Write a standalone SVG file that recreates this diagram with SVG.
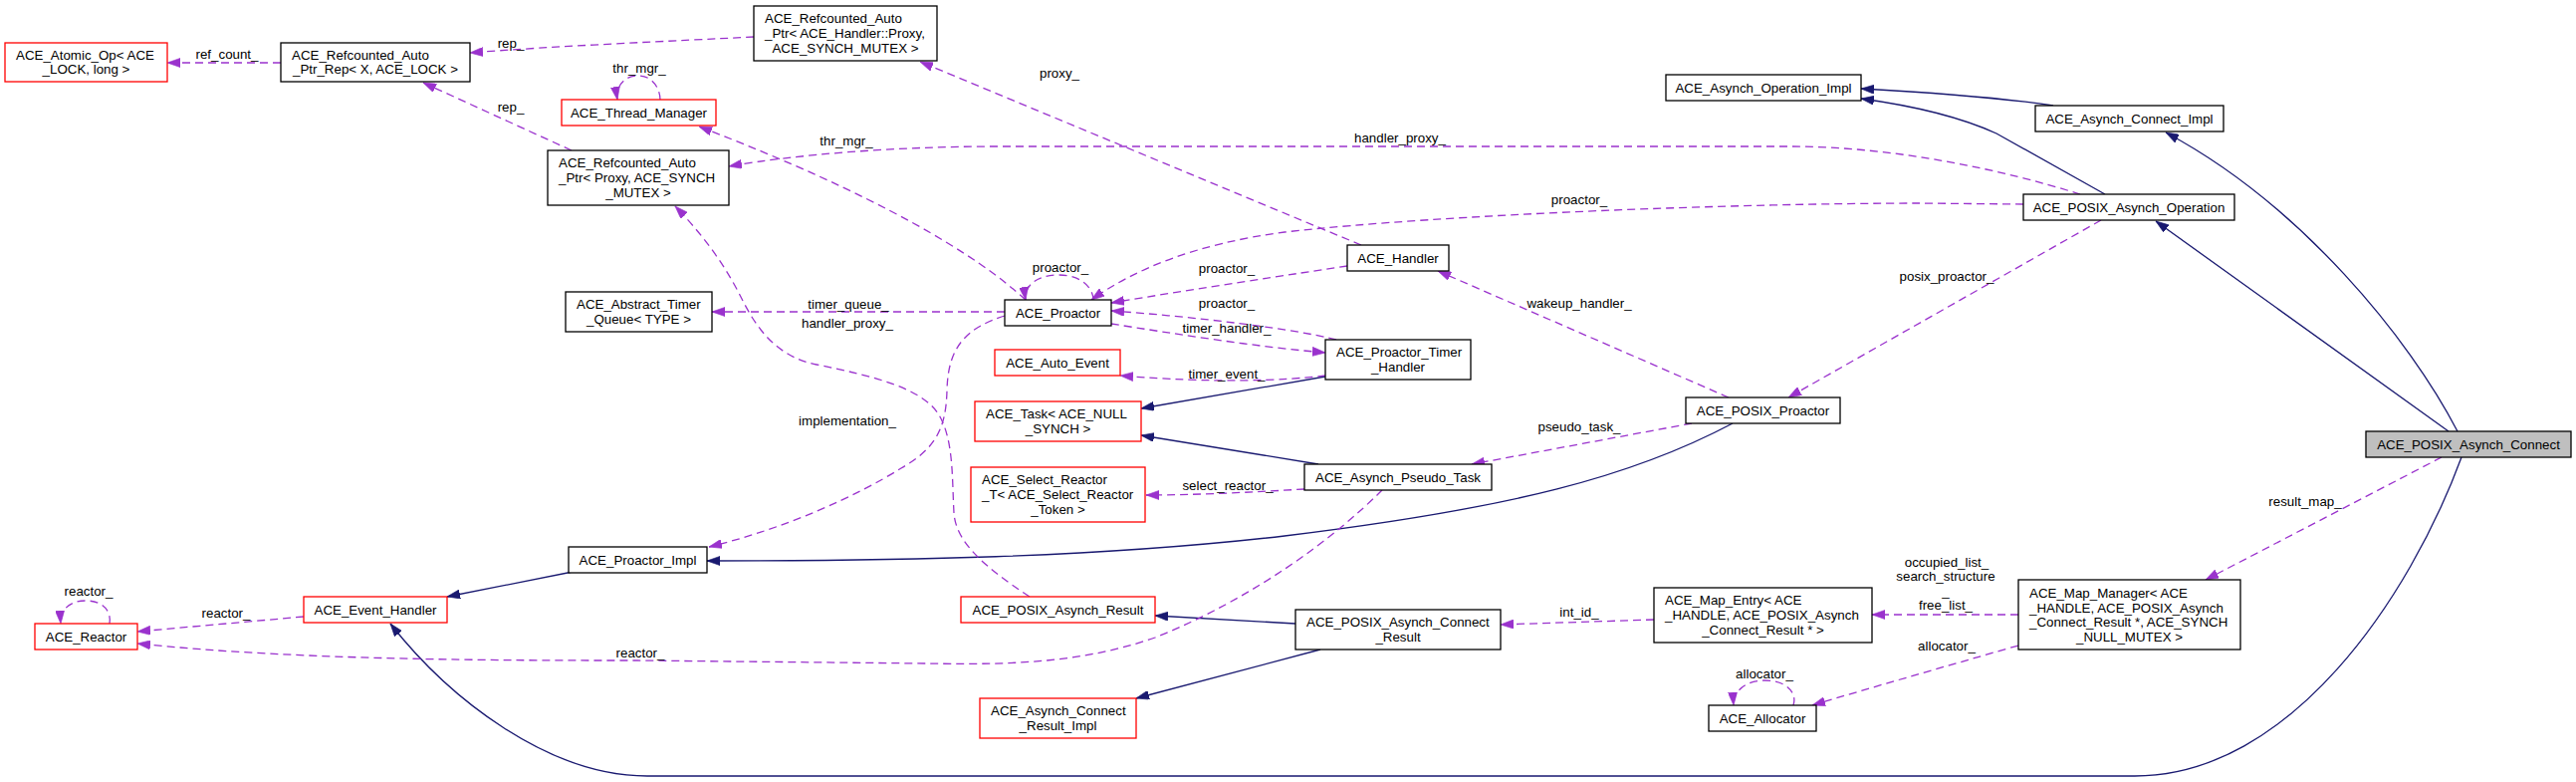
<svg xmlns="http://www.w3.org/2000/svg" width="2587" height="785" viewBox="0 0 2587 785">
<style>
text{font-family:"Liberation Sans",Arial,Helvetica,sans-serif;font-size:13.33px;fill:#000}
.c{text-anchor:middle}
.n rect{fill:#fff;stroke:#000;stroke-width:1.3}
.r rect{stroke:#ff0000}
.m rect{fill:#bfbfbf}
.e path{fill:none;stroke-width:1.3}
.d{stroke:#9a32cd;stroke-dasharray:8,5;marker-end:url(#ap)}
.s{stroke:#191970;marker-end:url(#an)}
</style>
<defs>
<marker id="ap" markerUnits="userSpaceOnUse" markerWidth="13" markerHeight="9.1" viewBox="0 0 10 7" refX="10" refY="3.5" orient="auto"><path d="M0,0 L10,3.5 L0,7 Z" fill="#9a32cd" stroke="#9a32cd" stroke-width="0.5"/></marker>
<marker id="an" markerUnits="userSpaceOnUse" markerWidth="13" markerHeight="9.1" viewBox="0 0 10 7" refX="10" refY="3.5" orient="auto"><path d="M0,0 L10,3.5 L0,7 Z" fill="#191970" stroke="#191970" stroke-width="0.5"/></marker>
</defs>
<rect width="2587" height="785" fill="#fff"/>
<g id="edges" class="e">
<path class="s" d="M2062,106 C2010,98 1940,93 1869,89"/>
<path class="s" d="M2114,195 L2005,134 C1970,118 1920,106 1869,99"/>
<path class="s" d="M2468,433 C2420,340 2310,205 2175,133"/>
<path class="s" d="M2459,433 L2165,222"/>
<path class="s" d="M2472,459 C2420,600 2300,779 2144,779 L650,779 C550,779 450,700 392,626"/>
<path class="s" d="M1740,425 C1640,478 1520,510 1290,538 C1100,560 900,563 710,563"/>
<path class="s" d="M575,574 L449,599"/>
<path class="s" d="M1331,378 L1146,410"/>
<path class="s" d="M1324,466 L1146,437"/>
<path class="s" d="M1301,626 L1160,618"/>
<path class="s" d="M1326,652 L1141,701"/>
<path class="d" d="M282,63 L168,63"/>
<path class="d" d="M757,37 C680,41 560,46 472,53"/>
<path class="d" d="M574,151 L425,83"/>
<path class="d" d="M663,100 C663,90 656,76 641,76 C626,76 618,88 620,100"/>
<path class="d" d="M1030,301 C980,255 880,195 702,127"/>
<path class="d" d="M2089,195 C2010,170 1900,147 1798,147 L1000,147 C900,147 800,155 732,167"/>
<path class="d" d="M1367,246 L924,62"/>
<path class="d" d="M2032,205 L1930,204 C1750,204 1450,215 1290,233 C1200,245 1140,270 1096,301"/>
<path class="d" d="M1098,301 C1098,290 1087,276 1063,276 C1040,276 1028,288 1030,301"/>
<path class="d" d="M1353,267 C1300,275 1200,290 1116,304"/>
<path class="d" d="M1342,341 C1300,330 1200,318 1116,312"/>
<path class="d" d="M1116,325 C1180,335 1260,348 1331,354"/>
<path class="d" d="M1009,313 L715,313"/>
<path class="d" d="M1331,377 C1290,382 1220,385 1125,377"/>
<path class="d" d="M1034,599 C990,570 960,545 958,515 C956,480 958,440 942,415 C925,390 880,378 820,366 C780,358 760,330 745,300 C730,270 710,240 678,207"/>
<path class="d" d="M1009,317 C968,330 952,350 951,392 C950,430 940,450 905,470 C860,498 790,530 712,549"/>
<path class="d" d="M1736,399 L1444,272"/>
<path class="d" d="M2110,221 L1796,399"/>
<path class="d" d="M1699,425 L1478,466"/>
<path class="d" d="M1310,491 C1260,494 1200,497 1151,497"/>
<path class="d" d="M1388,492 C1340,540 1260,600 1160,640 C1080,668 1000,667 930,666 L640,663 C500,663 300,663 138,646"/>
<path class="d" d="M305,619 L138,634"/>
<path class="d" d="M110,626 C112,615 105,603 86,603 C70,603 60,612 61,626"/>
<path class="d" d="M1661,622 L1507,627"/>
<path class="d" d="M2027,617 L1880,617"/>
<path class="d" d="M2027,648 C1950,670 1880,690 1820,708"/>
<path class="d" d="M1801,708 C1805,696 1795,683 1772,683 C1752,683 1740,695 1741,708"/>
<path class="d" d="M2452,459 L2215,582"/>
<text class="c" x="228" y="58.5">ref_count_</text>
<text class="c" x="513" y="47.5">rep_</text>
<text class="c" x="513" y="111.5">rep_</text>
<text class="c" x="642" y="72.5">thr_mgr_</text>
<text class="c" x="850" y="145.5">thr_mgr_</text>
<text class="c" x="1406" y="142.5">handler_proxy_</text>
<text class="c" x="1064" y="77.5">proxy_</text>
<text class="c" x="1586" y="204.5">proactor_</text>
<text class="c" x="1065" y="272.5">proactor_</text>
<text class="c" x="1232" y="273.5">proactor_</text>
<text class="c" x="1232" y="308.5">proactor_</text>
<text class="c" x="1232" y="333.5">timer_handler_</text>
<text class="c" x="852" y="309.5">timer_queue_</text>
<text class="c" x="1232" y="379.5">timer_event_</text>
<text class="c" x="851" y="328.5">handler_proxy_</text>
<text class="c" x="851" y="426.5">implementation_</text>
<text class="c" x="1586" y="308.5">wakeup_handler_</text>
<text class="c" x="1955" y="281.5">posix_proactor_</text>
<text class="c" x="1586" y="432.5">pseudo_task_</text>
<text class="c" x="1233" y="491.5">select_reactor_</text>
<text class="c" x="643" y="659.5">reactor_</text>
<text class="c" x="227" y="619.5">reactor_</text>
<text class="c" x="89" y="597.5">reactor_</text>
<text class="c" x="1586" y="618.5">int_id_</text>
<text class="c" x="1955" y="568.5">occupied_list_</text>
<text class="c" x="1954" y="583.2">search_structure</text>
<text class="c" x="1954" y="597.8">_</text>
<text class="c" x="1954" y="612.4">free_list_</text>
<text class="c" x="1955" y="652.5">allocator_</text>
<text class="c" x="1772" y="680.5">allocator_</text>
<text class="c" x="2315" y="507.5">result_map_</text>
</g>
<g id="n_atomic" class="n r"><rect x="5" y="43" width="163" height="39"/><text x="16" y="59.7">ACE_Atomic_Op&lt; ACE</text><text class="c" x="86.5" y="74.3">_LOCK, long &gt;</text></g>
<g id="n_rep" class="n"><rect x="282" y="43" width="190" height="39"/><text x="293" y="59.7">ACE_Refcounted_Auto</text><text class="c" x="377" y="74.3">_Ptr_Rep&lt; X, ACE_LOCK &gt;</text></g>
<g id="n_thrmgr" class="n r"><rect x="564" y="100" width="155" height="26"/><text class="c" x="641.5" y="117.5">ACE_Thread_Manager</text></g>
<g id="n_refproxy" class="n"><rect x="550" y="151" width="182" height="55"/><text x="561" y="168.4">ACE_Refcounted_Auto</text><text x="561" y="183">_Ptr&lt; Proxy, ACE_SYNCH</text><text class="c" x="641" y="197.6">_MUTEX &gt;</text></g>
<g id="n_refhproxy" class="n"><rect x="757" y="6" width="184" height="55"/><text x="768" y="23.4">ACE_Refcounted_Auto</text><text x="768" y="38">_Ptr&lt; ACE_Handler::Proxy,</text><text class="c" x="849" y="52.6">ACE_SYNCH_MUTEX &gt;</text></g>
<g id="n_timerq" class="n"><rect x="568" y="293" width="147" height="40"/><text x="579" y="310.2">ACE_Abstract_Timer</text><text class="c" x="641.5" y="324.8">_Queue&lt; TYPE &gt;</text></g>
<g id="n_proactor" class="n"><rect x="1009" y="301" width="107" height="26"/><text class="c" x="1062.5" y="318.5">ACE_Proactor</text></g>
<g id="n_autoevent" class="n r"><rect x="999" y="351" width="126" height="26"/><text class="c" x="1062" y="368.5">ACE_Auto_Event</text></g>
<g id="n_task" class="n r"><rect x="979" y="403" width="167" height="40"/><text x="990" y="420.2">ACE_Task&lt; ACE_NULL</text><text class="c" x="1062.5" y="434.8">_SYNCH &gt;</text></g>
<g id="n_selreactor" class="n r"><rect x="975" y="469" width="175" height="55"/><text x="986" y="486.4">ACE_Select_Reactor</text><text x="986" y="501">_T&lt; ACE_Select_Reactor</text><text class="c" x="1062.5" y="515.6">_Token &gt;</text></g>
<g id="n_proimpl" class="n"><rect x="571" y="549" width="139" height="26"/><text class="c" x="640.5" y="566.5">ACE_Proactor_Impl</text></g>
<g id="n_reactor" class="n r"><rect x="35" y="626" width="103" height="26"/><text class="c" x="86.5" y="643.5">ACE_Reactor</text></g>
<g id="n_evh" class="n r"><rect x="305" y="599" width="144" height="26"/><text class="c" x="377" y="616.5">ACE_Event_Handler</text></g>
<g id="n_posixres" class="n r"><rect x="965" y="599" width="195" height="26"/><text class="c" x="1062.5" y="616.5">ACE_POSIX_Asynch_Result</text></g>
<g id="n_connresimpl" class="n r"><rect x="984" y="701" width="157" height="40"/><text x="995" y="718.2">ACE_Asynch_Connect</text><text class="c" x="1062.5" y="732.8">_Result_Impl</text></g>
<g id="n_opimpl" class="n"><rect x="1673" y="75" width="196" height="26"/><text class="c" x="1771" y="92.5">ACE_Asynch_Operation_Impl</text></g>
<g id="n_handler" class="n"><rect x="1353" y="246" width="102" height="26"/><text class="c" x="1404" y="263.5">ACE_Handler</text></g>
<g id="n_timerhandler" class="n"><rect x="1331" y="341" width="146" height="40"/><text x="1342" y="358.2">ACE_Proactor_Timer</text><text class="c" x="1404" y="372.8">_Handler</text></g>
<g id="n_posixproactor" class="n"><rect x="1693" y="399" width="155" height="26"/><text class="c" x="1770.5" y="416.5">ACE_POSIX_Proactor</text></g>
<g id="n_pseudotask" class="n"><rect x="1310" y="466" width="188" height="26"/><text class="c" x="1404" y="483.5">ACE_Asynch_Pseudo_Task</text></g>
<g id="n_connres" class="n"><rect x="1301" y="612" width="206" height="40"/><text x="1312" y="629.2">ACE_POSIX_Asynch_Connect</text><text class="c" x="1404" y="643.8">_Result</text></g>
<g id="n_mapentry" class="n"><rect x="1661" y="590" width="219" height="55"/><text x="1672" y="607.4">ACE_Map_Entry&lt; ACE</text><text x="1672" y="622">_HANDLE, ACE_POSIX_Asynch</text><text class="c" x="1770.5" y="636.6">_Connect_Result * &gt;</text></g>
<g id="n_allocator" class="n"><rect x="1716" y="708" width="108" height="26"/><text class="c" x="1770" y="725.5">ACE_Allocator</text></g>
<g id="n_connimpl" class="n"><rect x="2044" y="106" width="189" height="26"/><text class="c" x="2138.5" y="123.5">ACE_Asynch_Connect_Impl</text></g>
<g id="n_posixop" class="n"><rect x="2032" y="195" width="212" height="26"/><text class="c" x="2138" y="212.5">ACE_POSIX_Asynch_Operation</text></g>
<g id="n_main" class="n m"><rect x="2376" y="433" width="206" height="26"/><text class="c" x="2479" y="450.5">ACE_POSIX_Asynch_Connect</text></g>
<g id="n_mapmgr" class="n"><rect x="2027" y="582" width="223" height="70"/><text x="2038" y="600">ACE_Map_Manager&lt; ACE</text><text x="2038" y="614.6">_HANDLE, ACE_POSIX_Asynch</text><text x="2038" y="629.2">_Connect_Result *, ACE_SYNCH</text><text class="c" x="2138.5" y="643.8">_NULL_MUTEX &gt;</text></g>
</svg>
